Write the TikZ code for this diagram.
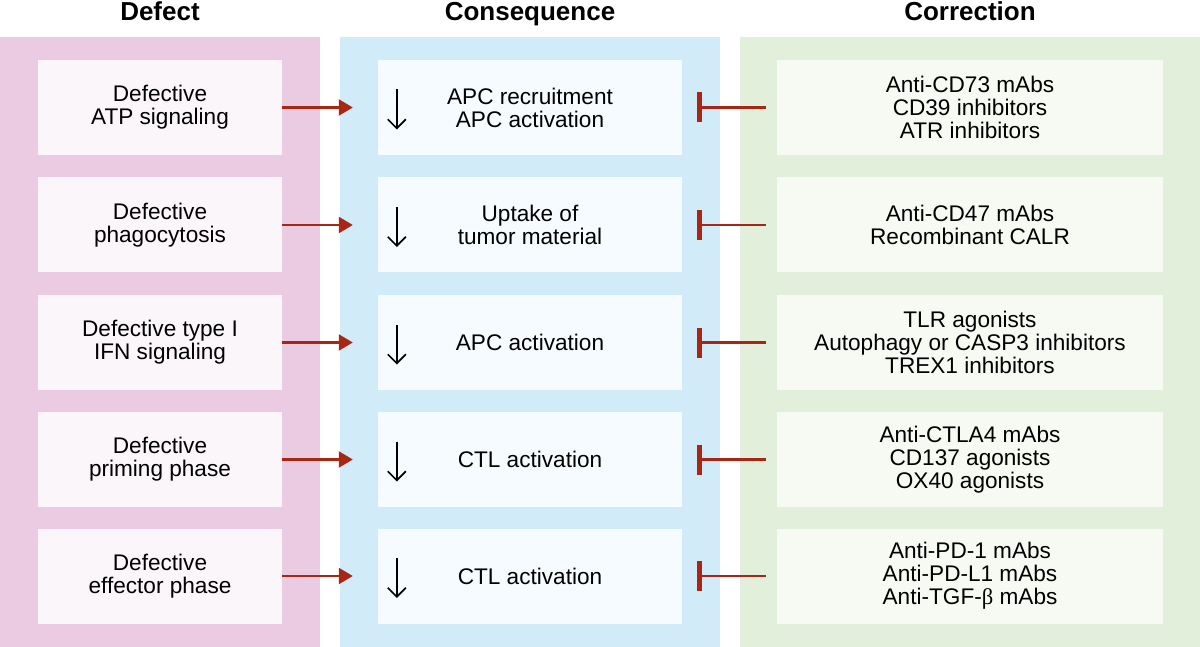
\documentclass[tikz,border=0pt]{standalone}
\usepackage{fontspec}
\setmainfont{Liberation Sans}
\newfontfamily\greekserif{Liberation Serif}
\usetikzlibrary{arrows.meta}
\definecolor{pinkpanel}{RGB}{234,203,226}
\definecolor{bluepanel}{RGB}{209,235,249}
\definecolor{greenpanel}{RGB}{226,239,218}
\definecolor{pinkbox}{RGB}{250,246,250}
\definecolor{bluebox}{RGB}{246,251,255}
\definecolor{greenbox}{RGB}{247,250,243}
\definecolor{arrowred}{RGB}{168,38,20}
\begin{document}
\begin{tikzpicture}[x=1pt,y=-1pt,
  header/.style={font=\fontsize{26}{28}\selectfont\bfseries, anchor=base},
  box/.style={inner sep=0pt, minimum height=95pt, align=center, font=\fontsize{22.6}{23}\selectfont},
  defbox/.style={box, fill=pinkbox, minimum width=244pt},
  conbox/.style={box, fill=bluebox, minimum width=304pt},
  corbox/.style={box, fill=greenbox, minimum width=386pt},
  act/.style={draw=arrowred, line width=2.2pt, -{Triangle[length=14pt,width=16pt]}, shorten >=25pt},
  inh/.style={draw=arrowred, line width=2.2pt, -{Bar[width=30pt,line width=5pt]}, shorten <=11pt, shorten >=15pt},
  downarr/.style={draw=black, line width=1.7pt, -{Straight Barb[length=9pt,width=18pt]}}
]
\useasboundingbox (0,0) rectangle (1200,647);
% panels
\fill[pinkpanel] (0,37) rectangle (320,647);
\fill[bluepanel] (340,37) rectangle (720,647);
\fill[greenpanel] (740,37) rectangle (1200,647);
% headers
\node[header] (h1) at (160,21) {Defect};
\node[header] (h2) at (530,21) {Consequence};
\node[header] (h3) at (970,21) {Correction};
% defect boxes
\node[defbox] (d1) at (160,107.5) {Defective\\ATP signaling};
\node[defbox] (d2) at (160,225) {Defective\\phagocytosis};
\node[defbox] (d3) at (160,342.5) {Defective type I\\IFN signaling};
\node[defbox] (d4) at (160,459.5) {Defective\\priming phase};
\node[defbox] (d5) at (160,576) {Defective\\effector phase};
% consequence boxes
\node[conbox] (c1) at (530,107.5) {APC recruitment\\APC activation};
\node[conbox] (c2) at (530,225) {Uptake of\\tumor material};
\node[conbox] (c3) at (530,342.5) {APC activation};
\node[conbox] (c4) at (530,459.5) {CTL activation};
\node[conbox] (c5) at (530,576) {CTL activation};
% correction boxes
\node[corbox] (r1) at (970,107.5) {Anti-CD73 mAbs\\CD39 inhibitors\\ATR inhibitors};
\node[corbox] (r2) at (970,225) {Anti-CD47 mAbs\\Recombinant CALR};
\node[corbox] (r3) at (970,342.5) {TLR agonists\\Autophagy or CASP3 inhibitors\\TREX1 inhibitors};
\node[corbox] (r4) at (970,459.5) {Anti-CTLA4 mAbs\\CD137 agonists\\OX40 agonists};
\node[corbox] (r5) at (970,576) {Anti-PD-1 mAbs\\Anti-PD-L1 mAbs\\Anti-TGF-{\greekserif β} mAbs};
% connectors
\foreach \i in {1,...,5}{
  \draw[act] (d\i.east) -- (c\i.west);
  \draw[inh] (r\i.west) -- (c\i.east);
  \draw[downarr] ([xshift=19pt,yshift=18pt]c\i.west) -- ([xshift=19pt,yshift=-22pt]c\i.west);
}
\end{tikzpicture}
\end{document}
